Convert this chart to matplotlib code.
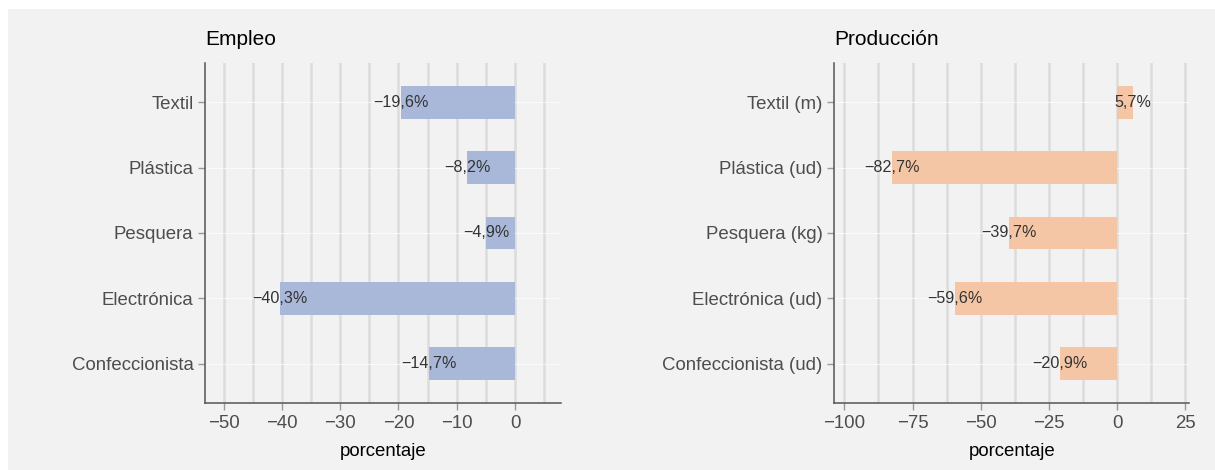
import numpy as np
import matplotlib.pyplot as plt
from matplotlib.patches import Rectangle

plt.rcParams['font.family'] = ['Liberation Sans', 'DejaVu Sans']

# data
empleo_cats = ["Textil", "Plástica", "Pesquera", "Electrónica", "Confeccionista"]
empleo_vals = [-19.6, -8.2, -4.9, -40.3, -14.7]
prod_cats = ["Textil (m)", "Plástica (ud)", "Pesquera (kg)", "Electrónica (ud)", "Confeccionista (ud)"]
prod_vals = [5.7, -82.7, -39.7, -59.6, -20.9]

empleo_ticks = [-50, -40, -30, -20, -10, 0]
empleo_minor = [-45, -35, -25, -15, -5, 5]
prod_ticks = [-100, -75, -50, -25, 0, 25]
prod_minor = [-87.5, -62.5, -37.5, -12.5, 12.5]

BG = '#f2f2f2'
W, H = 1215, 470

fig = plt.figure(figsize=(W / 100, H / 100), dpi=100)
fig.patch.set_facecolor('white')
fig.patches.append(Rectangle((8 / W, 0), 1 - 8 / W, 1 - 9 / H, transform=fig.transFigure,
                             facecolor=BG, edgecolor='none', zorder=-10))


def fmt(v):
    s = '{:.1f}%'.format(abs(v)).replace('.', ',')
    return ('\u2212' + s) if v < 0 else s


def tick_fmt(v):
    return ('\u2212%d' % abs(v)) if v < 0 else '%d' % v


def panel(rect, cats, vals, color, ticks, minor, xlim, title):
    ax = fig.add_axes(rect)
    ax.set_facecolor(BG)
    y = np.arange(len(cats))
    for g in list(ticks) + list(minor):
        ax.axvline(g, color='#dcdcdc', lw=1.8, zorder=0)
    for yy in y:
        ax.axhline(yy, color='white', lw=0.6, alpha=0.8, zorder=0)
    ax.barh(y, vals, height=0.5, color=color, zorder=2)
    for yy, v in zip(y, vals):
        ax.text(v, yy, fmt(v), ha='center', va='center', fontsize=11.6,
                color='#333333', zorder=3)
    ax.set_xlim(*xlim)
    ax.set_ylim(len(cats) - 0.4, -0.6)
    ax.set_yticks(y)
    ax.set_yticklabels(cats)
    ax.set_xticks(ticks)
    ax.set_xticklabels([tick_fmt(t) for t in ticks])
    ax.tick_params(axis='both', colors='#999999', labelcolor='#4d4d4d',
                   labelsize=13.4, length=5, width=1, pad=3.5)
    for s in ['top', 'right']:
        ax.spines[s].set_visible(False)
    for s in ['left', 'bottom']:
        ax.spines[s].set_color('#555555')
        ax.spines[s].set_linewidth(1.1)
    ax.set_xlabel('porcentaje', fontsize=13.4, color='black', labelpad=8)
    ax.set_title(title, loc='left', fontsize=15, color='black', pad=13)
    return ax


bottom = 1 - 402.7 / H
height = (402.7 - 63) / H
panel([205.3 / W, bottom, (560.7 - 205.3) / W, height], empleo_cats, empleo_vals,
      '#a9b8d9', empleo_ticks, empleo_minor, (-53.16, 7.84), 'Empleo')
panel([834.3 / W, bottom, (1189.3 - 834.3) / W, height], prod_cats, prod_vals,
      '#f5c6a6', prod_ticks, prod_minor, (-103.7, 26.5), 'Producción')

fig.savefig('out.png', dpi=100, facecolor=fig.get_facecolor())
